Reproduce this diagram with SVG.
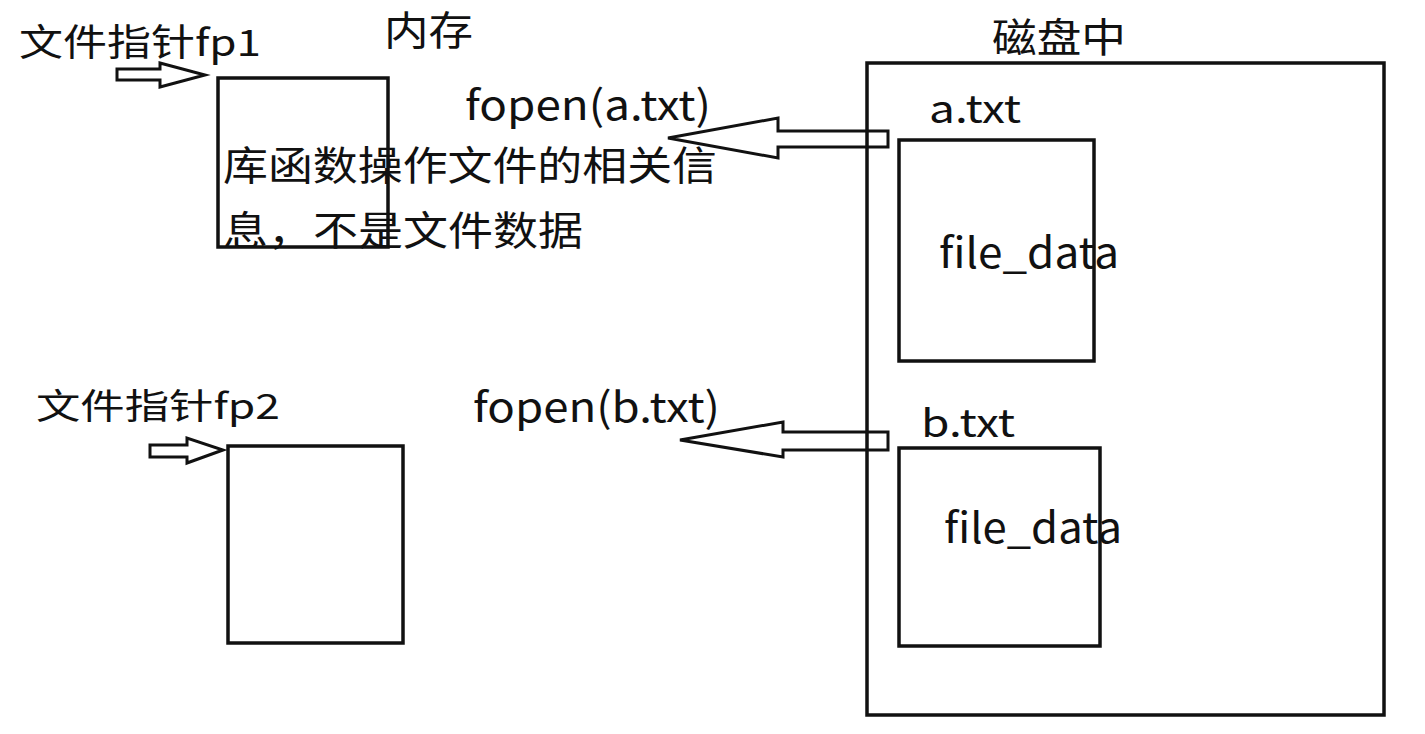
<svg xmlns="http://www.w3.org/2000/svg" width="1425" height="734" viewBox="0 0 1425 734">
  <style>
    .box { fill: none; stroke: #111; stroke-width: 3.5; }
    .arrow { fill: none; stroke: #111; stroke-width: 3; stroke-linejoin: miter; }
    .t { font-family: "Noto Sans CJK SC", "Noto Sans", sans-serif; fill: #111; }
  </style>
  <rect x="0" y="0" width="1425" height="734" fill="#fff"/>

  <g id="memory-label">
    <text class="t" x="384" y="45" font-size="40" textLength="89" lengthAdjust="spacingAndGlyphs">内存</text>
  </g>

  <g id="fp1">
    <text class="t" x="19" y="56" font-size="37" textLength="242" lengthAdjust="spacingAndGlyphs">文件指针fp1</text>
    <rect class="box" x="218" y="78" width="170" height="169"/>
    <text class="t" x="223" y="180" font-size="40" textLength="494" lengthAdjust="spacingAndGlyphs">库函数操作文件的相关信</text>
    <text class="t" x="223" y="245" font-size="40" textLength="360" lengthAdjust="spacingAndGlyphs">息，不是文件数据</text>
  </g>

  <g id="fp2">
    <text class="t" x="36" y="419" font-size="35" textLength="244" lengthAdjust="spacingAndGlyphs">文件指针fp2</text>
    <rect class="box" x="228" y="446" width="175" height="197"/>
  </g>

  <g id="disk">
    <text class="t" x="992" y="52" font-size="40" textLength="134" lengthAdjust="spacingAndGlyphs">磁盘中</text>
    <rect class="box" x="867" y="63" width="517" height="652"/>
  </g>

  <g id="a-txt">
    <text class="t" x="929" y="123" font-size="38" textLength="92" lengthAdjust="spacingAndGlyphs">a.txt</text>
    <rect class="box" x="899" y="140" width="195" height="221"/>
    <text class="t" x="939" y="268" font-size="42" textLength="180" lengthAdjust="spacingAndGlyphs">file_data</text>
  </g>

  <g id="b-txt">
    <text class="t" x="921" y="437" font-size="38" textLength="94" lengthAdjust="spacingAndGlyphs">b.txt</text>
    <rect class="box" x="899" y="448" width="201" height="198"/>
    <text class="t" x="944" y="543" font-size="42" textLength="178" lengthAdjust="spacingAndGlyphs">file_data</text>
  </g>

  <g id="connectors">
    <polygon class="arrow" points="117,69 160,69 160,63 205,75 160,87 160,80 117,80"/>
    <polygon class="arrow" points="150,445 187,445 187,438 223,450 187,463 187,457 150,457"/>
    <polygon class="arrow" points="888,131 778,131 778,118 668,138 778,158 778,147 888,147"/>
    <polygon class="arrow" points="888,432 783,432 783,422 680,440 783,457 783,450 888,450"/>
    <text class="t" x="465" y="120" font-size="41" textLength="246" lengthAdjust="spacingAndGlyphs">fopen(a.txt)</text>
    <text class="t" x="473" y="422" font-size="41" textLength="247" lengthAdjust="spacingAndGlyphs">fopen(b.txt)</text>
  </g>
</svg>
